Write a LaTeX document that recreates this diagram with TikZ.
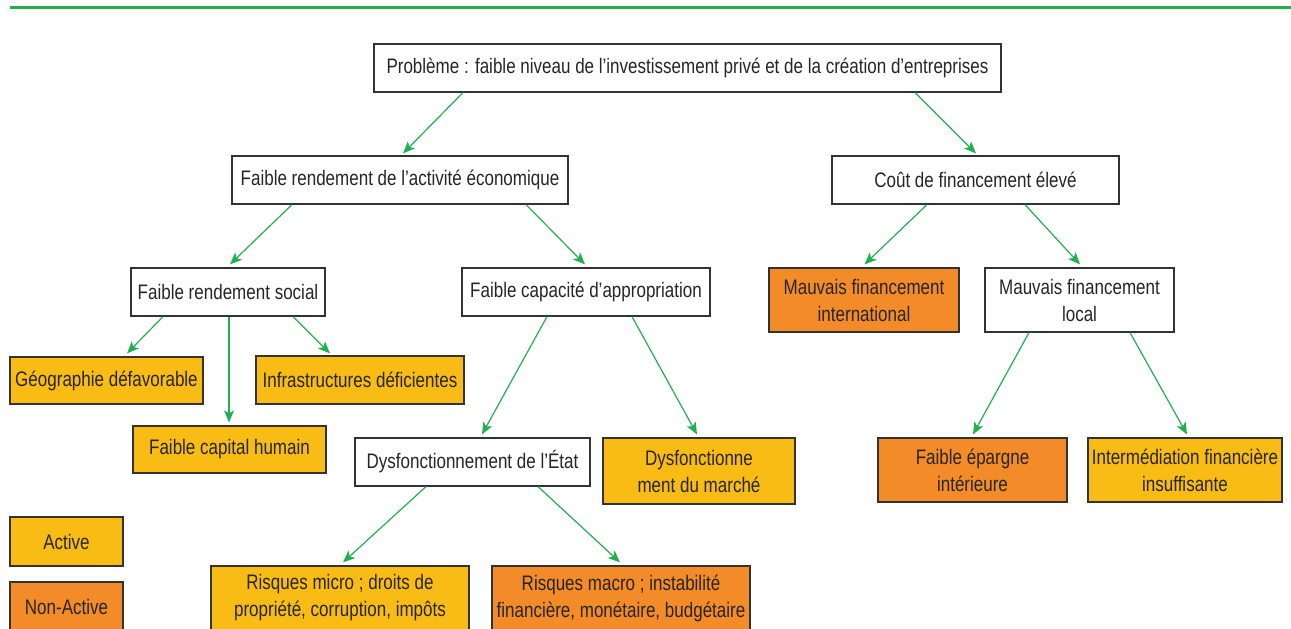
\documentclass[tikz,border=0pt]{standalone}
\usepackage{fontspec}
\setmainfont[FakeStretch=0.81]{Liberation Sans}
\usetikzlibrary{arrows.meta,positioning,calc}

\definecolor{actif}{RGB}{249,188,21}
\definecolor{inactif}{RGB}{243,139,41}
\definecolor{vert}{RGB}{33,176,80}
\definecolor{bord}{RGB}{51,51,51}

\tikzset{
  boite/.style={rectangle, draw=bord, line width=1.2pt, align=center, inner sep=0pt,
    text=black!85, font=\fontsize{21}{27}\selectfont},
  cause/.style={boite, fill=white},
  active/.style={boite, fill=actif},
  nonactive/.style={boite, fill=inactif},
  fleche/.style={-{Stealth[length=12pt,width=10pt,inset=3pt]}, draw=vert, line width=1.2pt},
}

\begin{document}
\begin{tikzpicture}[x=1pt, y=-1pt]
    \useasboundingbox (0,0) rectangle (1291,629);
    \clip (0,0) rectangle (1291,629);
    \draw[vert, line width=3pt] (10,7) -- (1291,7);

    % Probleme
    \node[cause, minimum width=627pt, minimum height=48pt] (prob) at (687.5,68)
        {Problème : faible niveau de l’investissement privé et de la création d’entreprises};

    % Premier niveau
    \node[cause, minimum width=336pt, minimum height=48pt] (fra) at (400,180)
        {Faible rendement de l’activité économique};
    \node[cause, minimum width=287pt, minimum height=48pt] (cout) at (975.5,180)
        {Coût de financement élevé};

    % Deuxieme niveau
    \node[cause, minimum width=194pt, minimum height=48pt] (frs) at (228,292) {Faible rendement social};
    \node[cause, minimum width=248pt, minimum height=48pt] (fca) at (586,292) {Faible capacité d’appropriation};
    \node[nonactive, minimum width=190pt, minimum height=64pt] (mfi) at (864,300) {Mauvais financement\\international};
    \node[cause, minimum width=189pt, minimum height=64pt] (mfl) at (1079.5,300) {Mauvais financement\\local};

    % Troisieme niveau
    \node[active, minimum width=193pt, minimum height=47pt] (geo) at (106.5,380.5) {Géographie défavorable};
    \node[active, minimum width=208pt, minimum height=48pt] (infra) at (360,380) {Infrastructures déficientes};
    \node[active, minimum width=193pt, minimum height=47pt] (fch) at (229.5,449.5) {Faible capital humain};
    \node[cause, minimum width=235pt, minimum height=48pt] (dye) at (472.5,462) {Dysfonctionnement de l’État};
    \node[active, minimum width=192pt, minimum height=66pt] (dym) at (699,471) {Dysfonctionne\\ment du marché};
    \node[nonactive, minimum width=189pt, minimum height=64pt] (fei) at (972.5,470) {Faible épargne\\intérieure};
    \node[active, minimum width=194pt, minimum height=64pt] (ifi) at (1185,470) {Intermédiation financière\\insuffisante};

    % Quatrieme niveau
    \node[active, minimum width=258pt, minimum height=64pt] (rmi) at (340,598) {Risques micro ; droits de\\propriété, corruption, impôts};
    \node[nonactive, minimum width=258pt, minimum height=64pt] (rma) at (621,598) {Risques macro ; instabilité\\financière, monétaire, budgétaire};

    % Legende
    \node[active, minimum width=113pt, minimum height=49pt] (act) at (66.5,541.5) {Active};
    \node[nonactive, minimum width=113pt, minimum height=49pt] (nact) at (66.5,606.5) {Non-Active};

    % Fleches
    \draw[fleche] ([xshift=-224.5pt]prob.south) -- ([xshift=3pt,yshift=2pt]fra.north);
    \draw[fleche] ([xshift=227.5pt]prob.south) -- ([xshift=0.5pt,yshift=2pt]cout.north);
    \draw[fleche] ([xshift=-108pt]fra.south) -- ([xshift=2pt,yshift=3pt]frs.north);
    \draw[fleche] ([xshift=126pt]fra.south) -- ([xshift=-1pt,yshift=3pt]fca.north);
    \draw[fleche] ([xshift=-48.5pt]cout.south) -- ([xshift=0.5pt,yshift=3pt]mfi.north);
    \draw[fleche] ([xshift=49.5pt]cout.south) -- ([xshift=0.5pt,yshift=3pt]mfl.north);
    \draw[fleche] ([xshift=-65pt]frs.south) -- ([xshift=20.5pt,yshift=3pt]geo.north);
    \draw[fleche] ([xshift=1pt]frs.south) -- ([xshift=-0.5pt,yshift=3pt]fch.north);
    \draw[fleche] ([xshift=65pt]frs.south) -- ([xshift=-30pt,yshift=2pt]infra.north);
    \draw[fleche] ([xshift=-39pt]fca.south) -- ([xshift=9.5pt,yshift=3pt]dye.north);
    \draw[fleche] ([xshift=46pt]fca.south) -- ([xshift=-2pt,yshift=3pt]dym.north);
    \draw[fleche] ([xshift=-50.5pt]mfl.south) -- ([xshift=0.5pt,yshift=3pt]fei.north);
    \draw[fleche] ([xshift=50.5pt]mfl.south) -- ([xshift=2pt,yshift=3pt]ifi.north);
    \draw[fleche] ([xshift=-46.5pt]dye.south) -- ([xshift=3pt,yshift=3pt]rmi.north);
    \draw[fleche] ([xshift=65.5pt]dye.south) -- ([xshift=-1pt,yshift=3pt]rma.north);
\end{tikzpicture}
\end{document}
